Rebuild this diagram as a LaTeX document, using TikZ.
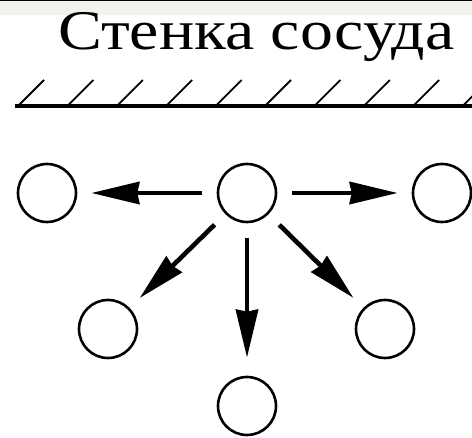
\documentclass[tikz,border=0pt]{standalone}
\usepackage{fontspec}
\setmainfont{Liberation Serif}
\usetikzlibrary{arrows.meta}
\definecolor{stripgray}{RGB}{242,241,237}
\begin{document}
\begin{tikzpicture}[x=1pt,y=-1pt,
  particle/.style={circle,draw=black,line width=2.6pt,minimum size=58pt,inner sep=0pt},
  push/.style={line width=4.6pt,-{Stealth[length=48pt,width=22pt,inset=2pt]},shorten <=15pt,shorten >=14pt},
  wall/.style={line width=4pt},
  hatch/.style={line width=1.8pt}]
\useasboundingbox (0,0) rectangle (472,438);
\fill[stripgray] (0,0) rectangle (472,15);
\fill[black] (0,0) rectangle (472,1.3);
\node[anchor=base west,inner sep=0pt,font=\fontsize{56}{60}\selectfont] (title) at (58,50) {\scalebox{1.175}[1]{Стенка сосуда}};
\draw[wall] (15,106) -- (472,106);
\foreach \k in {0,...,9} {
  \draw[hatch] ({18+49.4*\k},106) -- ({44+49.4*\k},80);
}
\node[particle] (c) at (247,193) {};
\node[particle] (l) at (47,193) {};
\node[particle] (r) at (442,193) {};
\node[particle] (ll) at (108,329) {};
\node[particle] (lr) at (385,329) {};
\node[particle] (b) at (247,406) {};
\draw[push] (c) -- (l);
\draw[push] (c) -- (r);
\draw[push] (c) -- (ll);
\draw[push] (c) -- (lr);
\draw[push,shorten >=18pt] (c) -- (b);
\end{tikzpicture}
\end{document}
